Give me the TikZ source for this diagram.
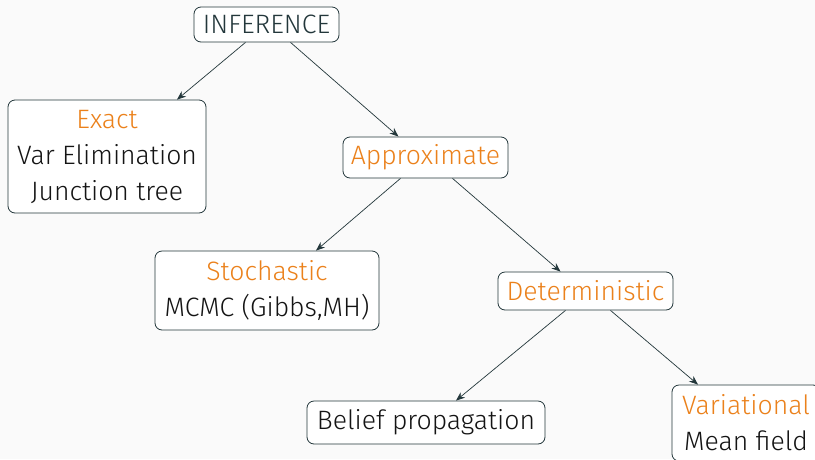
\documentclass[tikz,border=0pt]{standalone}
\usepackage{fontspec}
\setmainfont{Fira Sans}[UprightFont={* Light}]
\usetikzlibrary{arrows.meta,calc}
\definecolor{mdark}{HTML}{23373B}
\definecolor{morange}{HTML}{EB811B}
\definecolor{mbg}{HTML}{FAFAFA}
\begin{document}
\begin{tikzpicture}[x=1pt,y=-1pt,
  box/.style={draw=mdark,fill=white,rounded corners=7pt,line width=0.8pt,align=center,
    font=\fontsize{26.6}{36}\selectfont,text=black!92,inner sep=0pt},
  arr/.style={draw=mdark,line width=0.7pt,-{Stealth[length=9pt,width=7pt]}}]
\useasboundingbox (0,0) rectangle (815,459);
\clip (0,0) rectangle (815,459);
\fill[mbg] (0,0) rectangle (815,459);
\node[box,text=mdark,minimum width=145pt,minimum height=35pt] (inf) at (266.5,24.5) {INFERENCE};
\node[box,minimum width=198pt,minimum height=113pt] (exact) at (107,156.5) {\textcolor{morange}{Exact}\\Var Elimination\\Junction tree};
\node[box,minimum width=165pt,minimum height=41pt] (approx) at (425.5,157.5) {\textcolor{morange}{Approximate}};
\node[box,minimum width=224pt,minimum height=79pt] (stoch) at (267,290.5) {\textcolor{morange}{Stochastic}\\MCMC (Gibbs,MH)};
\node[box,minimum width=175pt,minimum height=38pt] (det) at (585.5,291) {\textcolor{morange}{Deterministic}};
\node[box,minimum width=238pt,minimum height=43pt] (belief) at (426,422.5) {Belief propagation};
\node[box,minimum width=148pt,minimum height=76pt] (var) at (746,423) {\textcolor{morange}{Variational}\\Mean field};
\draw[arr] ([xshift=-21pt]inf.south) -- ([xshift=70pt]exact.north);
\draw[arr] ([xshift=24pt]inf.south) -- ([xshift=-27pt]approx.north);
\draw[arr] ([xshift=-25pt]approx.south) -- ([xshift=49pt]stoch.north);
\draw[arr] ([xshift=27pt]approx.south) -- ([xshift=-25pt]det.north);
\draw[arr] ([xshift=-20pt]det.south) -- ([xshift=30pt]belief.north);
\draw[arr] ([xshift=25pt]det.south) -- ([xshift=-48pt]var.north);
\end{tikzpicture}
\end{document}
